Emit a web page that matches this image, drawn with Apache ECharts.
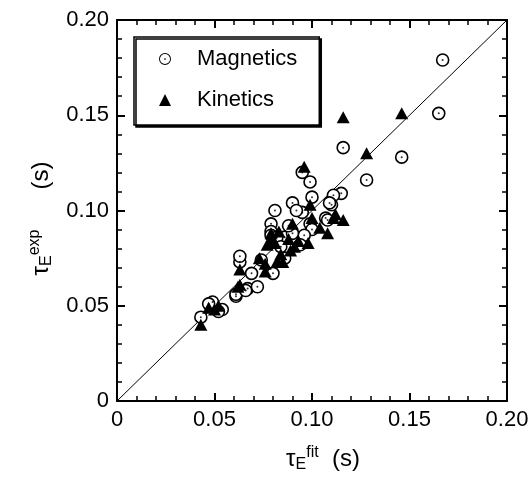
<!DOCTYPE html>
<html>
<head>
<meta charset="utf-8">
<script src="https://cdn.jsdelivr.net/npm/echarts@6/dist/echarts.min.js"></script>
<style>
  html, body { margin: 0; padding: 0; background: #fff; }
  #chart { width: 532px; height: 483px; }
</style>
</head>
<body>
<div id="chart"></div>
<script>
// values: [tau_fit, tau_exp] in seconds
const magnetics = [
  [0.167, 0.179], [0.165, 0.151], [0.116, 0.133], [0.146, 0.128], [0.128, 0.116],
  [0.115, 0.109], [0.111, 0.108], [0.110, 0.103], [0.107, 0.096], [0.095, 0.120],
  [0.099, 0.115], [0.100, 0.107], [0.099, 0.093], [0.095, 0.099], [0.090, 0.104],
  [0.092, 0.100], [0.081, 0.100], [0.079, 0.093], [0.079, 0.089], [0.100, 0.090],
  [0.109, 0.104], [0.108, 0.095], [0.086, 0.086], [0.063, 0.073], [0.063, 0.076],
  [0.069, 0.067], [0.061, 0.055], [0.067, 0.059], [0.072, 0.060], [0.074, 0.074],
  [0.080, 0.067], [0.086, 0.075], [0.079, 0.087], [0.082, 0.086], [0.096, 0.087],
  [0.090, 0.088], [0.061, 0.056], [0.066, 0.058], [0.049, 0.052], [0.054, 0.048],
  [0.047, 0.051], [0.043, 0.044], [0.052, 0.047], [0.088, 0.092], [0.084, 0.081],
  [0.094, 0.082]
];
const kinetics = [
  [0.116, 0.149], [0.146, 0.151], [0.128, 0.130], [0.112, 0.098], [0.096, 0.123],
  [0.099, 0.103], [0.111, 0.096], [0.116, 0.095], [0.108, 0.088], [0.100, 0.096],
  [0.090, 0.093], [0.083, 0.089], [0.079, 0.088], [0.063, 0.069], [0.063, 0.061],
  [0.073, 0.075], [0.076, 0.068], [0.082, 0.073], [0.089, 0.079], [0.084, 0.077],
  [0.079, 0.085], [0.098, 0.083], [0.093, 0.084], [0.077, 0.082], [0.085, 0.073],
  [0.062, 0.060], [0.052, 0.050], [0.050, 0.048], [0.047, 0.049], [0.043, 0.040],
  [0.076, 0.072], [0.081, 0.083], [0.088, 0.085], [0.104, 0.091], [0.091, 0.081]
];
// y = x reference line
const diagonal = [[0, 0], [0.2, 0.2]];
const axisMin = 0, axisMax = 0.2, axisStep = 0.05;

const font = 'Liberation Sans, Arial, sans-serif';
const ringIcon = 'path://M0,-10A10,10 0 1,1 0,10A10,10 0 1,1 0,-10Z' +
  'M0,-8.4A8.4,8.4 0 1,0 0,8.4A8.4,8.4 0 1,0 0,-8.4Z' +
  'M0,-1.4A1.4,1.4 0 1,1 0,1.4A1.4,1.4 0 1,1 0,-1.4Z';

const nameRich = {
  t: { fontSize: 24, fontFamily: font, color: '#000', lineHeight: 28, verticalAlign: 'middle' },
  sub: { fontSize: 16, fontFamily: font, color: '#000', lineHeight: 16, verticalAlign: 'bottom' },
  sup: { fontSize: 16, fontFamily: font, color: '#000', lineHeight: 16, verticalAlign: 'top' }
};

function baseAxis(pos, showLabel) {
  return {
    type: 'value',
    position: pos,
    min: axisMin,
    max: axisMax,
    interval: axisStep,
    axisLine: { show: true, onZero: false, lineStyle: { color: '#000', width: 2 } },
    axisTick: { show: true, inside: true, length: 8, lineStyle: { color: '#000', width: 2 } },
    minorTick: { show: true, splitNumber: 5, length: 5, lineStyle: { color: '#000', width: 1.5 } },
    splitLine: { show: false },
    axisLabel: {
      show: showLabel,
      fontSize: 22,
      fontFamily: font,
      color: '#000',
      margin: 8,
      formatter: v => (v === 0 ? '0' : v.toFixed(2))
    }
  };
}

const chart = echarts.init(document.getElementById('chart'));

const xBottom = baseAxis('bottom', true);
xBottom.name = '{t|τ}{sub|E}{sup|fit}{t|  (s)}';
xBottom.nameLocation = 'middle';
xBottom.nameGap = 44;
xBottom.nameTextStyle = { rich: nameRich, padding: [0, 0, 0, 22] };

const yLeft = baseAxis('left', true);
yLeft.name = '{t|τ}{sub|E}{sup|exp}{t|      (s)}';
yLeft.nameLocation = 'middle';
yLeft.nameGap = 62;
yLeft.nameTextStyle = { rich: nameRich, padding: [0, 16, 0, 0] };

chart.setOption({
  backgroundColor: '#fff',
  animation: false,
  grid: { left: 117, top: 20, width: 390, height: 381 },
  xAxis: [xBottom, baseAxis('top', false)],
  yAxis: [yLeft, baseAxis('right', false)],
  legend: {
    left: 134,
    top: 37,
    orient: 'vertical',
    backgroundColor: '#fff',
    borderColor: '#000',
    borderWidth: 1.5,
    shadowColor: '#000',
    shadowBlur: 0,
    shadowOffsetX: 2,
    shadowOffsetY: 2,
    padding: [10, 22, 13, 25],
    itemGap: 17,
    itemWidth: 12,
    itemHeight: 12,
    textStyle: { fontSize: 22, fontFamily: font, color: '#000', lineHeight: 24, padding: [0, 0, 0, 21] },
    data: [
      { name: 'Magnetics', icon: ringIcon, itemStyle: { color: '#000', borderWidth: 0 } },
      { name: 'Kinetics', icon: 'triangle', itemStyle: { color: '#000' } }
    ]
  },
  series: [
    {
      type: 'line',
      data: diagonal,
      symbol: 'none',
      silent: true,
      lineStyle: { color: '#000', width: 1 },
      z: 1
    },
    {
      name: 'Magnetics',
      type: 'scatter',
      data: magnetics,
      symbol: 'circle',
      symbolSize: 12,
      itemStyle: { color: '#fff', borderColor: '#000', borderWidth: 1.6, opacity: 1 },
      z: 2
    },
    {
      name: 'magnetics-dot',
      type: 'scatter',
      data: magnetics,
      symbol: 'circle',
      symbolSize: 2,
      itemStyle: { color: '#000' },
      z: 3
    },
    {
      name: 'Kinetics',
      type: 'scatter',
      data: kinetics,
      symbol: 'triangle',
      symbolSize: [13, 12],
      itemStyle: { color: '#000', opacity: 1 },
      z: 4
    }
  ]
});
</script>
</body>
</html>
